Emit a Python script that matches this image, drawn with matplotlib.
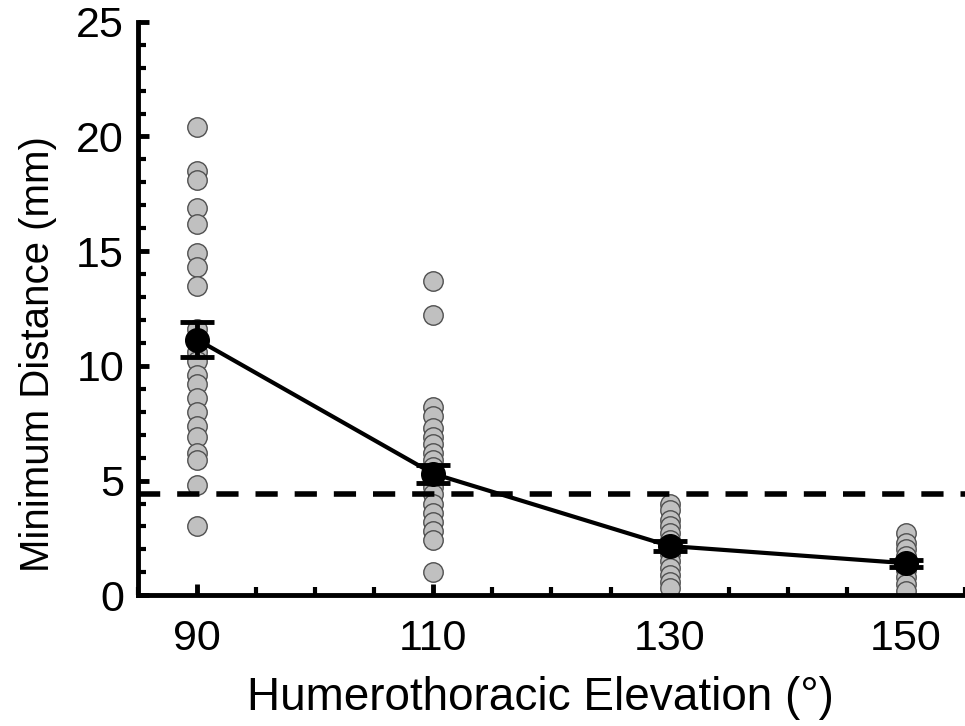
import numpy as np
import matplotlib.pyplot as plt
from matplotlib.ticker import MultipleLocator

plt.rcParams['font.family'] = ['Liberation Sans', 'DejaVu Sans']

# elevation angles
elevations = [90, 110, 130, 150]

# individual subject distances (mm)
dist_90 = [20.4, 18.5, 18.1, 16.9, 16.2, 14.9, 14.3, 13.5, 11.6, 10.6,
           10.2, 9.6, 9.2, 8.6, 8.0, 7.4, 6.9, 6.2, 5.9, 4.8, 3.0]
dist_110 = [13.7, 12.2, 8.2, 7.8, 7.3, 6.9, 6.6, 6.2, 5.9, 5.6, 5.3,
            5.0, 4.7, 4.4, 4.0, 3.6, 3.2, 2.8, 2.4, 1.0]
dist_130 = [4.0, 3.7, 3.3, 3.0, 2.7, 2.4, 2.1, 1.8, 1.5, 1.2, 0.9, 0.6, 0.3]
dist_150 = [2.7, 2.3, 2.0, 1.7, 1.4, 1.1, 0.8, 0.5, 0.2]

# group mean and standard error
means = [11.15, 5.3, 2.15, 1.4]
sems = [0.75, 0.4, 0.2, 0.15]

# threshold line
threshold = 4.4

fig = plt.figure(figsize=(9.65, 7.26), dpi=100)
ax = fig.add_axes([0.143, 0.180, 0.857, 0.790])

for x, d in zip(elevations, [dist_90, dist_110, dist_130, dist_150]):
    ax.plot([x] * len(d), d, 'o', ms=14, mfc='#c0c0c0', mec='#505050',
            mew=1.0, zorder=2)

ax.axhline(threshold, color='black', lw=4, dashes=(4.0, 3.05), zorder=3)

ax.errorbar(elevations, means, yerr=sems, color='black', lw=3, marker='o',
            ms=17, capsize=12.5, capthick=3.5, elinewidth=3.5, zorder=4)

ax.set_xlim(85, 155)
ax.set_ylim(0, 25)
ax.set_xticks(elevations)
ax.xaxis.set_minor_locator(MultipleLocator(5))
ax.set_yticks([0, 5, 10, 15, 20, 25])
ax.yaxis.set_minor_locator(MultipleLocator(1))

for s in ['top', 'right']:
    ax.spines[s].set_visible(False)
for s in ['left', 'bottom']:
    ax.spines[s].set_linewidth(3.5)

ax.tick_params(which='major', direction='in', length=8, width=3.5,
               labelsize=31)
ax.tick_params(which='minor', direction='in', length=6, width=3)
ax.tick_params(axis='x', which='major', pad=17)
ax.tick_params(axis='y', which='major', pad=10)

ax.set_xlabel('Humerothoracic Elevation (°)', fontsize=33, labelpad=12)
ax.set_ylabel('Minimum Distance (mm)', fontsize=29, labelpad=14)
ax.xaxis.label.set_x(0.487)
ax.yaxis.label.set_y(0.42)

plt.savefig('out.png', dpi=100)
